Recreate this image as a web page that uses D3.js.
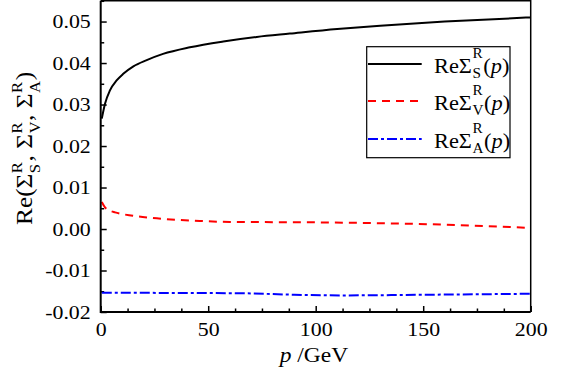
<!DOCTYPE html>
<html>
<head>
    <meta charset="utf-8">
    <script src="https://d3js.org/d3.v7.min.js"></script>
    <style>
        body { margin: 0; padding: 0; background: #fff; overflow: hidden; }
        text { font-family: "Liberation Serif", "Times New Roman", serif; fill: #000; white-space: pre; }
    </style>
</head>
<body>
    <div id="chart"></div>
    <script>
        // data
        const pS = [0.5, 2, 4.3, 7.4, 10.5, 15.2, 21.4, 29, 41.5, 57, 72.6, 88, 110, 130, 160, 200];
        const sigmaS = [0.0266, 0.0302, 0.0334, 0.0358, 0.0374, 0.0392, 0.0407, 0.0422, 0.0438, 0.0452, 0.0463, 0.0471, 0.0482, 0.0490, 0.0500, 0.0510];

        const pV = [0.5, 2, 4, 6.7, 15, 23, 46, 60, 93, 122, 158, 200];
        const sigmaV = [0.0065, 0.0052, 0.0045, 0.0040, 0.0032, 0.0027, 0.00195, 0.0017, 0.00163, 0.00147, 0.00108, 0.00026];

        const pA = [0.5, 30, 67, 90, 114, 152, 200];
        const sigmaA = [-0.01536, -0.0154, -0.0155, -0.01584, -0.0160, -0.01584, -0.0156];

        const xMajor = [0, 50, 100, 150, 200];
        const yMajor = [-0.02, -0.01, 0, 0.01, 0.02, 0.03, 0.04, 0.05];

        const series = [
            { p: pS, v: sigmaS, sub: 'S', color: '#000000', dash: null, width: 2 },
            { p: pV, v: sigmaV, sub: 'V', color: '#ff0000', dash: '8,6', width: 2 },
            { p: pA, v: sigmaA, sub: 'A', color: '#0000ff', dash: '10,3,3,3', width: 2 }
        ];

        const width = 565, height = 374;
        const sx = 1.12; // the figure's text is a bit wider than normal
        const FONT = '"Liberation Serif", "Times New Roman", serif';

        const svg = d3.select('#chart').append('svg')
            .attr('width', width)
            .attr('height', height)
            .style('background', '#fff');

        const x = d3.scaleLinear().domain([0, 200]).range([100.7, 530.7]);
        const y = d3.scaleLinear().domain([-0.02, 0.055]).range([312, 0.8]);

        function stretchLabels(sel) {
            sel.each(function () {
                const t = d3.select(this);
                const tx = +t.attr('x') || 0, ty = +t.attr('y') || 0;
                t.attr('x', 0).attr('y', 0)
                    .attr('transform', `translate(${tx},${ty}) scale(${sx},1)`);
            });
        }

        // axes with inward ticks
        const xAxis = svg.append('g')
            .attr('transform', `translate(0,${y.range()[0]})`)
            .call(d3.axisBottom(x).tickValues(xMajor).tickSize(-6).tickPadding(10.5).tickFormat(d3.format('d')));
        svg.append('g')
            .attr('transform', `translate(0,${y.range()[0]})`)
            .call(d3.axisBottom(x).tickValues(d3.range(0, 201, 12.5).filter(d => d % 50 !== 0)).tickSize(-3.5).tickFormat(''));

        const yAxis = svg.append('g')
            .attr('transform', `translate(${x.range()[0]},0)`)
            .call(d3.axisLeft(y).tickValues(yMajor).tickSize(-6).tickPadding(10).tickFormat(d3.format('.2f')));
        svg.append('g')
            .attr('transform', `translate(${x.range()[0]},0)`)
            .call(d3.axisLeft(y).tickValues(d3.range(-0.015, 0.055, 0.01)).tickSize(-3.5).tickFormat(''));

        svg.selectAll('.domain').remove();
        svg.selectAll('.tick line').attr('stroke', '#000').attr('stroke-width', 1.5);
        svg.selectAll('.tick text').attr('font-size', 19.5).style('font-family', FONT);
        yAxis.selectAll('.tick text').text(d => d3.format('.2f')(d).replace('−', '-'));
        stretchLabels(xAxis.selectAll('.tick text'));
        stretchLabels(yAxis.selectAll('.tick text'));

        // lines
        const line = d3.line().x(d => x(d[0])).y(d => y(d[1])).curve(d3.curveMonotoneX);
        series.forEach(s => {
            svg.append('path')
                .datum(s.p.map((p, i) => [p, s.v[i]]))
                .attr('fill', 'none')
                .attr('stroke', s.color)
                .attr('stroke-width', s.width)
                .attr('stroke-dasharray', s.dash)
                .attr('d', line);
        });

        // frame
        const [x0, x1] = x.range(), [y0, y1] = y.range();
        svg.append('path').attr('d', `M${x0},${y1}H${x1}V${y0}`)
            .attr('fill', 'none').attr('stroke', '#000').attr('stroke-width', 1.5);
        svg.append('path').attr('d', `M${x0},${y1}V${y0}H${x1}`)
            .attr('fill', 'none').attr('stroke', '#000').attr('stroke-width', 2);

        // rich text: pieces with optional sup/sub stacked on the same spot
        function richText(g, pieces, size, opt = {}) {
            const small = size * (opt.small || 0.68);
            const supY = opt.supY || -0.72, subY = opt.subY || 0.27;
            let cx = 0;
            pieces.forEach(pc => {
                const t = g.append('text').attr('x', cx).attr('y', 0)
                    .attr('font-size', size)
                    .style('font-family', FONT)
                    .style('font-style', pc.italic ? 'italic' : 'normal')
                    .text(pc.t);
                cx += t.node().getComputedTextLength();
                if (pc.sup || pc.sub) {
                    let w = 0;
                    if (pc.sup) {
                        const s = g.append('text').attr('x', cx + 0.5).attr('y', supY * size)
                            .attr('font-size', small).style('font-family', FONT).text(pc.sup);
                        w = Math.max(w, s.node().getComputedTextLength());
                    }
                    if (pc.sub) {
                        const s = g.append('text').attr('x', cx + 0.5).attr('y', subY * size)
                            .attr('font-size', small).style('font-family', FONT).text(pc.sub);
                        w = Math.max(w, s.node().getComputedTextLength());
                    }
                    cx += w + 1;
                }
            });
            return cx;
        }

        // x title
        const xt = svg.append('g');
        const xw = richText(xt, [{ t: 'p', italic: true }, { t: ' /GeV' }], 21);
        xt.attr('transform', `translate(${314 - xw * sx / 2},362) scale(${sx},1)`);

        // y title (spans roughly y = 72..225 in the figure)
        const yt = svg.append('g');
        const yw = richText(yt, [
            { t: 'Re(' }, { t: 'Σ', sup: 'R', sub: 'S' }, { t: ', ' },
            { t: 'Σ', sup: 'R', sub: 'V' }, { t: ', ' },
            { t: 'Σ', sup: 'R', sub: 'A' }, { t: ')' }
        ], 21.5, { small: 0.66, supY: -0.42, subY: 0.38 });
        const yLen = 153, ys = yLen / yw;
        yt.attr('transform', `translate(31.7,${148.4 + yLen / 2}) scale(1.05,${ys}) rotate(-90)`);

        // legend
        const leg = svg.append('g');
        leg.append('rect')
            .attr('x', 366.7).attr('y', 46.7)
            .attr('width', 143.3).attr('height', 111)
            .attr('fill', '#fff').attr('stroke', '#000').attr('stroke-width', 1.2);
        const legY = [64, 101, 139];
        series.forEach((s, i) => {
            leg.append('line')
                .attr('x1', 368).attr('x2', 421.7)
                .attr('y1', legY[i]).attr('y2', legY[i])
                .attr('stroke', s.color).attr('stroke-width', s.width)
                .attr('stroke-dasharray', s.dash);
            const lt = leg.append('g');
            richText(lt, [{ t: 'ReΣ', sup: 'R', sub: s.sub }, { t: '(' }, { t: 'p', italic: true }, { t: ')' }], 20);
            lt.attr('transform', `translate(434,${legY[i] + 8.7}) scale(${sx},1)`);
        });
    </script>
</body>
</html>
